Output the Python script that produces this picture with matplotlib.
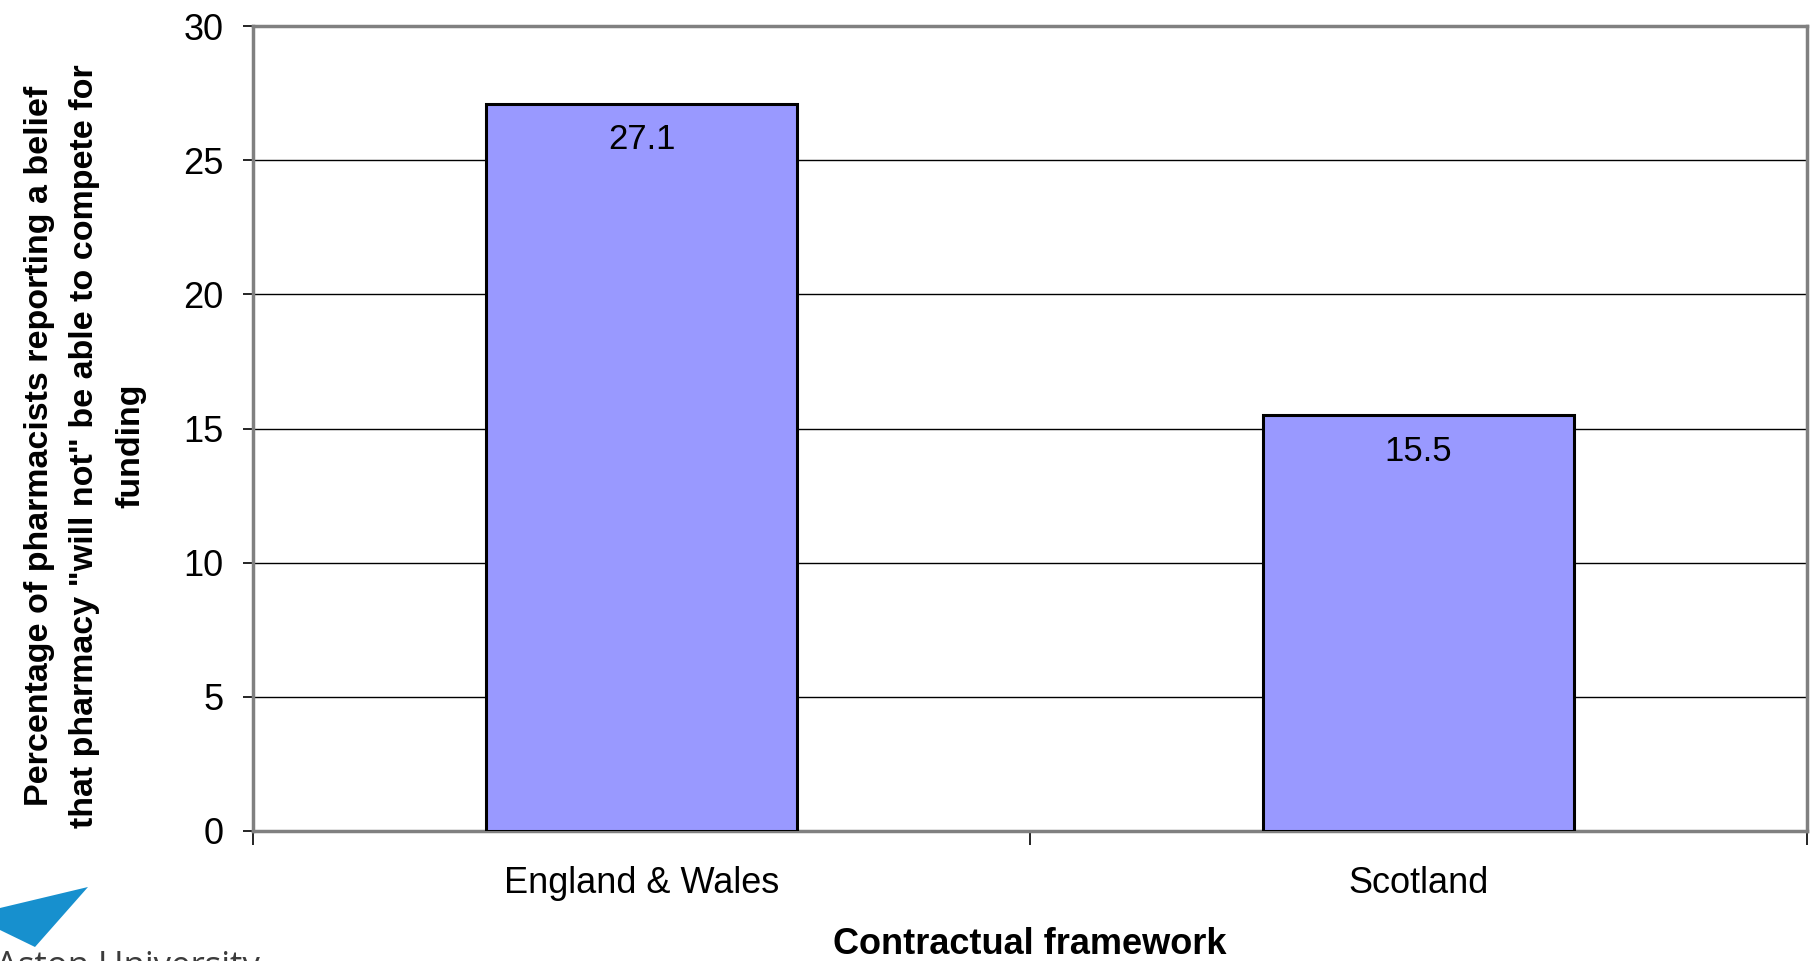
import matplotlib
matplotlib.use("Agg")
import matplotlib.pyplot as plt
from matplotlib import font_manager
from matplotlib.patches import Polygon

# survey result per contractual framework (%)
frameworks = ["England & Wales", "Scotland"]
pct_will_not_compete = [27.1, 15.5]
y_ticks = [0, 5, 10, 15, 20, 25, 30]

ylabel_text = ('Percentage of pharmacists reporting a belief\n'
               'that pharmacy "will not" be able to compete for\n'
               'funding')
xlabel_text = "Contractual framework"

plt.rcParams['font.family'] = ['Liberation Sans', 'DejaVu Sans']

# narrow face for the long y label if we have one
names = {f.name for f in font_manager.fontManager.ttflist}
if 'Liberation Sans Narrow' in names:
    ylab_family = ['Liberation Sans Narrow', 'Liberation Sans']
    ylab_size = 29
else:
    ylab_family = ['Liberation Sans', 'DejaVu Sans']
    ylab_size = 24.5

fig = plt.figure(figsize=(18.1, 9.61), dpi=100)
ax = fig.add_axes([253 / 1810, 130 / 961, 1554 / 1810, 805 / 961])

x = list(range(len(frameworks)))
bars = ax.bar(x, pct_will_not_compete, width=0.4, color='#9999FF',
              edgecolor='black', linewidth=2.2, zorder=3)

for b, v in zip(bars, pct_will_not_compete):
    ax.annotate(f"{v}", (b.get_x() + b.get_width() / 2, v),
                xytext=(0, -26), textcoords='offset points',
                ha='center', va='center', fontsize=25, zorder=4)

ax.set_xlim(-0.5, len(frameworks) - 0.5)
ax.set_ylim(0, 30)
ax.set_yticks(y_ticks)
ax.yaxis.grid(True, color='black', linewidth=1.0, zorder=0)
ax.set_axisbelow(True)

ax.set_xticks(x)
ax.set_xticklabels(frameworks, fontsize=26)
ax.set_xticks([i - 0.5 for i in range(len(frameworks) + 1)], minor=True)
ax.tick_params(axis='x', which='major', length=0, pad=25)
ax.tick_params(axis='x', which='minor', length=10, width=1.2, direction='out')
ax.tick_params(axis='y', length=7.2, width=1.2, pad=14, labelsize=26)

for s in ax.spines.values():
    s.set_color('#808080')
    s.set_linewidth(2.5)

ax.set_xlabel(xlabel_text, fontsize=26, fontweight='bold', labelpad=19)

fig.text(85 / 1810, 1 - 446 / 961, ylabel_text, rotation=90,
         ha='center', va='center', multialignment='center',
         fontsize=ylab_size, fontweight='bold', family=ylab_family,
         linespacing=1.6)

# Aston University logo, bottom-left corner
logo = Polygon([(0, 1 - 908 / 961), (88 / 1810, 1 - 887 / 961),
                (35 / 1810, 1 - 947 / 961), (0, 1 - 930 / 961)],
               closed=True, transform=fig.transFigure,
               facecolor='#1790CE', edgecolor='none')
fig.patches.append(logo)
fig.text(-4 / 1810, 1 - 950 / 961, "Aston University", ha='left', va='top',
         fontsize=25, color='#3c3c3c', family=['Open Sans', 'DejaVu Sans'])

fig.savefig("out.png", dpi=100)
